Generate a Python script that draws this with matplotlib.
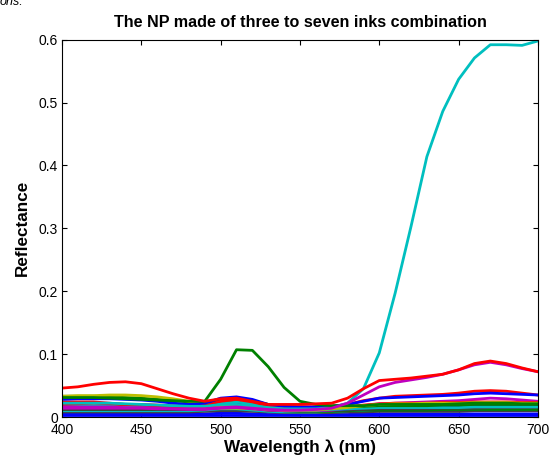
import numpy as np
import matplotlib.pyplot as plt

plt.rcParams['font.family'] = ['Liberation Sans', 'DejaVu Sans']

# wavelengths (nm)
wl = list(range(400, 701, 10))

# reflectance curves, one list per curve
r_blue1 = [0.028, 0.029, 0.029, 0.029, 0.028, 0.027, 0.025, 0.022, 0.020, 0.022, 0.030,
           0.032, 0.028, 0.020, 0.017, 0.016, 0.016, 0.017, 0.020, 0.025, 0.030, 0.031,
           0.032, 0.033, 0.034, 0.035, 0.037, 0.038, 0.037, 0.036, 0.035]
r_green1 = [0.031, 0.031, 0.031, 0.030, 0.029, 0.028, 0.027, 0.026, 0.025, 0.025, 0.060,
            0.107, 0.106, 0.080, 0.047, 0.025, 0.020, 0.018, 0.018, 0.018, 0.020, 0.020,
            0.020, 0.020, 0.020, 0.021, 0.022, 0.022, 0.022, 0.021, 0.021]
r_red1 = [0.046, 0.048, 0.052, 0.055, 0.056, 0.053, 0.045, 0.037, 0.030, 0.025, 0.029,
          0.030, 0.025, 0.020, 0.020, 0.020, 0.021, 0.022, 0.030, 0.045, 0.058, 0.060,
          0.062, 0.065, 0.068, 0.075, 0.085, 0.089, 0.085, 0.078, 0.072]
r_cyan1 = [0.022, 0.022, 0.022, 0.022, 0.021, 0.020, 0.019, 0.018, 0.017, 0.017, 0.020,
           0.020, 0.018, 0.015, 0.013, 0.013, 0.013, 0.015, 0.022, 0.045, 0.102, 0.197,
           0.303, 0.414, 0.486, 0.537, 0.571, 0.592, 0.592, 0.591, 0.598]
r_mag1 = [0.016, 0.016, 0.016, 0.016, 0.015, 0.015, 0.014, 0.013, 0.013, 0.013, 0.015,
          0.016, 0.014, 0.012, 0.011, 0.011, 0.012, 0.014, 0.022, 0.035, 0.048, 0.055,
          0.059, 0.063, 0.068, 0.075, 0.083, 0.087, 0.083, 0.077, 0.072]
r_yel1 = [0.033, 0.034, 0.034, 0.035, 0.035, 0.034, 0.032, 0.029, 0.025, 0.020, 0.018,
          0.018, 0.015, 0.012, 0.011, 0.011, 0.011, 0.013, 0.015, 0.018, 0.020, 0.021,
          0.021, 0.022, 0.022, 0.022, 0.023, 0.023, 0.023, 0.022, 0.022]
r_gray1 = [0.012, 0.012, 0.012, 0.012, 0.012, 0.012, 0.012, 0.012, 0.012, 0.013, 0.015,
           0.016, 0.014, 0.011, 0.010, 0.010, 0.010, 0.010, 0.011, 0.012, 0.013, 0.013,
           0.013, 0.013, 0.014, 0.014, 0.014, 0.015, 0.015, 0.015, 0.015]
r_blue2 = [0.005, 0.005, 0.005, 0.005, 0.005, 0.005, 0.005, 0.005, 0.005, 0.005, 0.006,
           0.006, 0.005, 0.004, 0.004, 0.004, 0.004, 0.004, 0.004, 0.005, 0.005, 0.005,
           0.005, 0.005, 0.005, 0.005, 0.005, 0.005, 0.005, 0.005, 0.005]
r_green2 = [0.033, 0.033, 0.033, 0.032, 0.031, 0.030, 0.028, 0.026, 0.024, 0.022, 0.026,
            0.028, 0.026, 0.020, 0.016, 0.015, 0.015, 0.015, 0.016, 0.017, 0.018, 0.018,
            0.018, 0.018, 0.019, 0.019, 0.020, 0.020, 0.020, 0.020, 0.020]
r_red2 = [0.020, 0.021, 0.022, 0.021, 0.020, 0.020, 0.019, 0.018, 0.017, 0.018, 0.025,
          0.028, 0.024, 0.018, 0.016, 0.016, 0.016, 0.017, 0.020, 0.026, 0.030, 0.033,
          0.034, 0.035, 0.036, 0.038, 0.041, 0.042, 0.041, 0.038, 0.035]
r_cyan2 = [0.010, 0.010, 0.010, 0.010, 0.010, 0.010, 0.010, 0.010, 0.010, 0.011, 0.013,
           0.013, 0.011, 0.009, 0.008, 0.008, 0.008, 0.009, 0.010, 0.011, 0.012, 0.012,
           0.012, 0.012, 0.013, 0.013, 0.013, 0.013, 0.013, 0.013, 0.013]
r_mag2 = [0.014, 0.014, 0.014, 0.014, 0.014, 0.014, 0.013, 0.013, 0.012, 0.012, 0.014,
          0.015, 0.013, 0.011, 0.010, 0.010, 0.010, 0.011, 0.014, 0.018, 0.021, 0.022,
          0.023, 0.024, 0.025, 0.026, 0.028, 0.030, 0.029, 0.027, 0.025]
r_yel2 = [0.013, 0.013, 0.013, 0.013, 0.013, 0.013, 0.013, 0.013, 0.013, 0.013, 0.014,
          0.014, 0.013, 0.011, 0.010, 0.010, 0.010, 0.011, 0.013, 0.015, 0.016, 0.016,
          0.016, 0.016, 0.016, 0.017, 0.017, 0.017, 0.017, 0.017, 0.017]
r_gray2 = [0.008, 0.008, 0.008, 0.008, 0.008, 0.008, 0.008, 0.008, 0.008, 0.009, 0.010,
           0.010, 0.009, 0.008, 0.007, 0.007, 0.007, 0.007, 0.008, 0.008, 0.009, 0.009,
           0.009, 0.009, 0.009, 0.009, 0.010, 0.010, 0.010, 0.010, 0.010]
r_blue3 = [0.015, 0.015, 0.015, 0.015, 0.015, 0.015, 0.015, 0.015, 0.015, 0.016, 0.020,
           0.021, 0.018, 0.013, 0.011, 0.011, 0.011, 0.012, 0.013, 0.015, 0.016, 0.016,
           0.016, 0.016, 0.017, 0.017, 0.017, 0.018, 0.018, 0.018, 0.018]
r_green3 = [0.012, 0.012, 0.012, 0.012, 0.012, 0.012, 0.012, 0.012, 0.012, 0.013, 0.017,
            0.020, 0.018, 0.013, 0.010, 0.009, 0.009, 0.009, 0.010, 0.011, 0.011, 0.011,
            0.011, 0.011, 0.012, 0.012, 0.012, 0.012, 0.012, 0.012, 0.012]
r_cyan3 = [0.018, 0.018, 0.018, 0.018, 0.018, 0.018, 0.018, 0.017, 0.017, 0.018, 0.022,
           0.024, 0.021, 0.015, 0.012, 0.011, 0.011, 0.012, 0.013, 0.014, 0.015, 0.015,
           0.015, 0.015, 0.015, 0.015, 0.016, 0.016, 0.016, 0.016, 0.016]
r_red3 = [0.024, 0.024, 0.024, 0.022, 0.020, 0.019, 0.018, 0.017, 0.016, 0.016, 0.018,
          0.019, 0.017, 0.014, 0.013, 0.013, 0.013, 0.014, 0.016, 0.019, 0.021, 0.022,
          0.022, 0.022, 0.023, 0.023, 0.024, 0.024, 0.024, 0.023, 0.023]
r_blue4 = [0.003, 0.003, 0.003, 0.003, 0.003, 0.003, 0.003, 0.003, 0.003, 0.003, 0.003,
           0.003, 0.003, 0.003, 0.003, 0.003, 0.003, 0.003, 0.003, 0.003, 0.003, 0.003,
           0.003, 0.003, 0.003, 0.003, 0.003, 0.003, 0.003, 0.003, 0.003]

curves = [r_blue1, r_green1, r_red1, r_cyan1, r_mag1, r_yel1, r_gray1,
          r_blue2, r_green2, r_red2, r_cyan2, r_mag2, r_yel2, r_gray2,
          r_blue3, r_green3, r_cyan3, r_red3, r_blue4]
colors = ['b', 'g', 'r', 'c', 'm', 'y', 'k',
          'b', 'g', 'r', 'c', 'm', 'y', 'k',
          'b', 'g', 'c', 'r', 'b']
matlab = {'b': (0, 0, 1), 'g': (0, 0.5, 0), 'r': (1, 0, 0), 'c': (0, 0.75, 0.75),
          'm': (0.75, 0, 0.75), 'y': (0.75, 0.75, 0), 'k': (0.25, 0.25, 0.25)}

fig = plt.figure(figsize=(5.56, 4.58), dpi=100)
ax = fig.add_axes([0.1115, 0.0895, 0.856, 0.8238])

# draw the low ones first so the bigger curves sit on top
order = [18, 7, 13, 10, 12, 15, 6, 14, 11, 16, 17, 8, 5, 9, 0, 3, 1, 4, 2]
for i in order:
    ax.plot(wl, curves[i], color=matlab[colors[i]], lw=2.0)

ax.set_xlim(400, 700)
ax.set_ylim(0, 0.6)
ax.set_xticks(range(400, 701, 50))
ax.set_yticks([0, 0.1, 0.2, 0.3, 0.4, 0.5, 0.6])
ax.set_yticklabels(['0', '0.1', '0.2', '0.3', '0.4', '0.5', '0.6'])
ax.tick_params(direction='in', top=True, right=True, length=3.6, labelsize=10)
ax.tick_params(axis='x', pad=4)
ax.tick_params(axis='y', pad=3)
for s in ax.spines.values():
    s.set_linewidth(0.8)

ax.set_title('The NP made of three to seven inks combination', fontsize=11.6,
             fontweight='bold', pad=9)
ax.set_xlabel('Wavelength \u03bb (nm)', fontsize=12.3, fontweight='bold', labelpad=2)
ax.set_ylabel('Reflectance', fontsize=12.3, fontweight='bold', labelpad=6)

# caption fragment cut off at the top of the page
fig.text(0.0, 0.995, 'ons.', fontsize=9, style='italic', va='center', ha='left')

fig.savefig('out.png', dpi=100)
